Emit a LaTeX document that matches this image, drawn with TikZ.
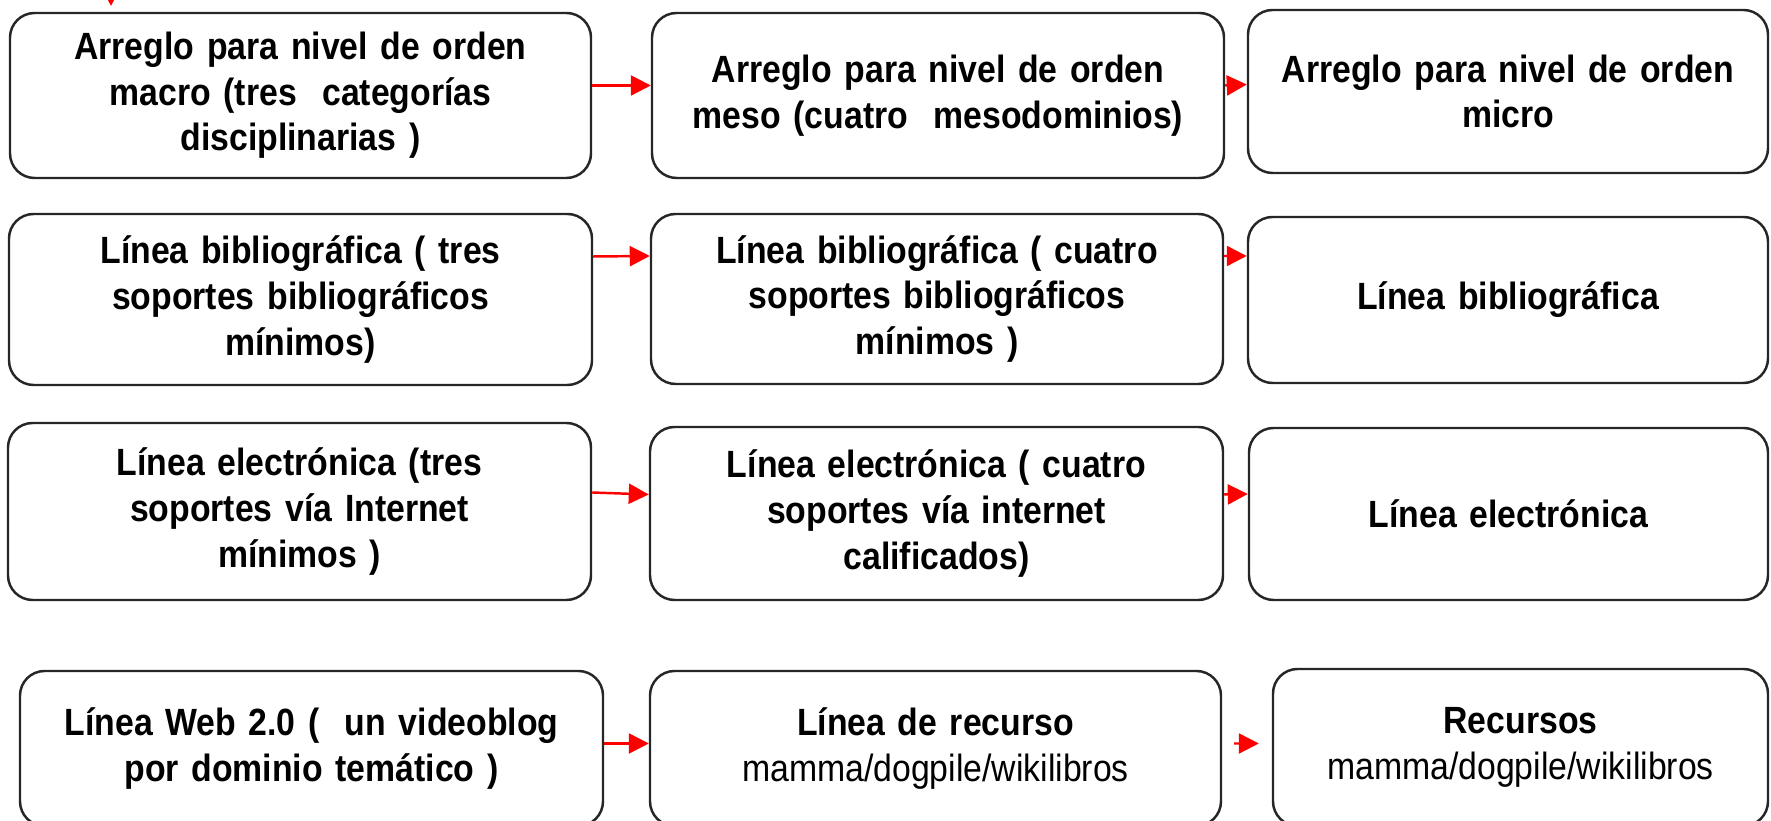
\documentclass[tikz,border=0pt]{standalone}
\usepackage{fontspec}
\setmainfont{Liberation Sans}[FakeStretch=0.89]
\usepackage{tikz}
\usetikzlibrary{arrows.meta}
\definecolor{flecha}{HTML}{FF0000}
\definecolor{ink}{HTML}{262626}

\begin{document}
\begin{tikzpicture}[font=\bfseries\fontsize{10.8}{13}\selectfont,caja/.style={draw=ink,line width=0.7pt,rounded corners=7pt,align=center,inner sep=0pt},link/.style={-{Triangle[length=0.2cm,width=0.2cm]},line width=0.7pt,flecha}]
\path[use as bounding box,clip] (0,0) rectangle (17.71,-8.21);
\node[caja,minimum width=5.81cm,minimum height=1.65cm,text width=5.4cm] (ord1) at (3.005,-0.955) {Arreglo para nivel de orden\\macro (tres\ \ categorías\\disciplinarias )};
\node[caja,minimum width=5.72cm,minimum height=1.65cm,text width=5.3cm] (ord2) at (9.38,-0.955) {Arreglo para nivel de orden\\meso (cuatro\ \ mesodominios)};
\node[caja,minimum width=5.20cm,minimum height=1.63cm,text width=4.9cm] (ord3) at (15.08,-0.915) {Arreglo para nivel de orden\\micro};
\node[caja,minimum width=5.83cm,minimum height=1.71cm,text width=5.4cm] (bib1) at (3.005,-2.995) {Línea bibliográfica ( tres\\soportes bibliográficos\\mínimos)};
\node[caja,minimum width=5.72cm,minimum height=1.70cm,text width=5.3cm] (bib2) at (9.37,-2.99) {Línea bibliográfica ( cuatro\\soportes bibliográficos\\mínimos )};
\node[caja,minimum width=5.20cm,minimum height=1.66cm,text width=4.9cm] (bib3) at (15.08,-3.00) {Línea bibliográfica};
\node[caja,minimum width=5.83cm,minimum height=1.77cm,text width=5.4cm] (ele1) at (2.995,-5.115) {Línea electrónica (tres\\soportes vía Internet\\mínimos )};
\node[caja,minimum width=5.73cm,minimum height=1.73cm,text width=5.3cm] (ele2) at (9.365,-5.135) {Línea electrónica ( cuatro\\soportes vía internet\\calificados)};
\node[caja,minimum width=5.19cm,minimum height=1.72cm,text width=4.9cm] (ele3) at (15.085,-5.14) {Línea electrónica};
\node[caja,minimum width=5.83cm,minimum height=1.55cm,text width=5.4cm] (web) at (3.115,-7.485) {Línea Web 2.0 (\ \ un videoblog\\por dominio temático )};
\node[caja,minimum width=5.71cm,minimum height=1.55cm,text width=5.3cm] (rec) at (9.355,-7.485) {Línea de recurso\\{\mdseries mamma/dogpile/wikilibros}};
\node[caja,minimum width=4.95cm,minimum height=1.57cm,text width=4.7cm] (res) at (15.205,-7.475) {Recursos\\{\mdseries mamma/dogpile/wikilibros}};
\coordinate (alto) at (1.11,0.4);
\coordinate (bajo) at (1.11,-0.06);
\draw[link] (alto) -- (bajo);
\draw[link] ([yshift=0.1cm]ord1.east) -- ([yshift=0.1cm]ord2.west);\draw[link] ([yshift=0.1cm]ord2.east) -- ([yshift=0.07cm]ord3.west);
\draw[link] ([yshift=0.43cm]bib1.east) -- ([yshift=0.43cm]bib2.west);\draw[link] ([yshift=0.43cm]bib2.east) -- ([yshift=0.44cm]bib3.west);
\draw[link] ([yshift=0.19cm]ele1.east) -- ([yshift=0.19cm]ele2.west);\draw[link] ([yshift=0.19cm]ele2.east) -- ([yshift=0.2cm]ele3.west);
\draw[link] ([yshift=0.05cm]web.east) -- ([yshift=0.05cm]rec.west);
\draw[link,shorten <=0.12cm,shorten >=0.13cm] ([yshift=0.05cm]rec.east) -- ([yshift=0.04cm]res.west);
\end{tikzpicture}
\end{document}
